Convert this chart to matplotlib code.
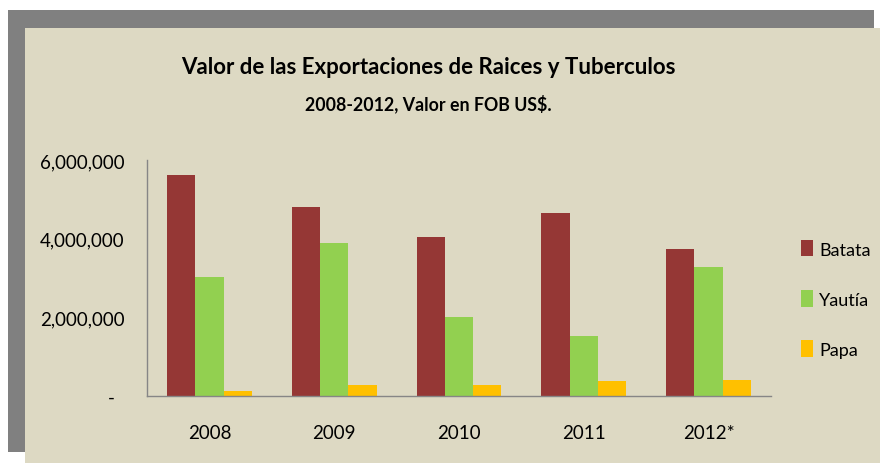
import matplotlib
matplotlib.use("Agg")
import matplotlib.pyplot as plt
import numpy as np
from matplotlib.patches import Rectangle
from matplotlib.ticker import FixedLocator, FixedFormatter

plt.rcParams['font.family'] = ['Lato', 'DejaVu Sans']

years = ["2008", "2009", "2010", "2011", "2012*"]
batata = [5630000, 4800000, 4040000, 4650000, 3740000]
yautia = [3030000, 3890000, 2010000, 1530000, 3280000]
papa = [135000, 290000, 280000, 390000, 410000]
series_names = ["Batata", "Yautía", "Papa"]
colors = ["#953735", "#92D050", "#FFC000"]
yticks = [0, 2000000, 4000000, 6000000]
ytick_labels = ["-  ", "2,000,000", "4,000,000", "6,000,000"]

W, H = 880, 464
fig = plt.figure(figsize=(W / 100, H / 100), dpi=100)
fig.patch.set_facecolor("white")

def fx(px):
    return px / W

def fy(py):
    return 1 - py / H

# gray frame (shadow) and beige panel
fig.patches.append(Rectangle((fx(8), fy(453)), fx(874) - fx(8), fy(11) - fy(453),
                             transform=fig.transFigure, facecolor="#808080",
                             edgecolor="none", zorder=0))
fig.patches.append(Rectangle((fx(25), fy(464)), fx(880) - fx(25), fy(29) - fy(464),
                             transform=fig.transFigure, facecolor="#DDD9C3",
                             edgecolor="none", zorder=1))

ax = fig.add_axes([fx(147), fy(397), fx(771) - fx(147), fy(161) - fy(397)])
ax.set_facecolor("none")
ax.set_zorder(5)

x = np.arange(len(years))
bw = 0.227
for i, (vals, name, c) in enumerate(zip([batata, yautia, papa], series_names, colors)):
    ax.bar(x + (i - 1) * bw, vals, width=bw, color=c, label=name, zorder=2)

ax.set_xlim(-0.5, len(years) - 0.5)
ax.set_ylim(0, 6000000)
ax.yaxis.set_major_locator(FixedLocator(yticks))
ax.yaxis.set_major_formatter(FixedFormatter(ytick_labels))
ax.set_xticks(x)
ax.set_xticklabels(years)
ax.tick_params(axis="both", length=0, labelsize=13.5, colors="black")
ax.tick_params(axis="y", pad=16)
ax.tick_params(axis="x", pad=20)
for s in ["top", "right"]:
    ax.spines[s].set_visible(False)
for s in ["left", "bottom"]:
    ax.spines[s].set_color("#868686")
    ax.spines[s].set_linewidth(1.0)

leg = ax.legend(loc="center left", bbox_to_anchor=(fx(801), fy(300)),
                bbox_transform=fig.transFigure, frameon=False, fontsize=13,
                handlelength=0.65, handleheight=1.0, handletextpad=0.35,
                labelspacing=1.82, borderpad=0, borderaxespad=0)

fig.text(fx(428), fy(68), "Valor de las Exportaciones de Raices y Tuberculos",
         ha="center", va="center", fontsize=16, fontweight="bold", zorder=3)
fig.text(fx(428), fy(104), "2008-2012, Valor en FOB US$.",
         ha="center", va="center", fontsize=12.8, fontweight="bold", zorder=3)

fig.savefig("out.png", dpi=100)
